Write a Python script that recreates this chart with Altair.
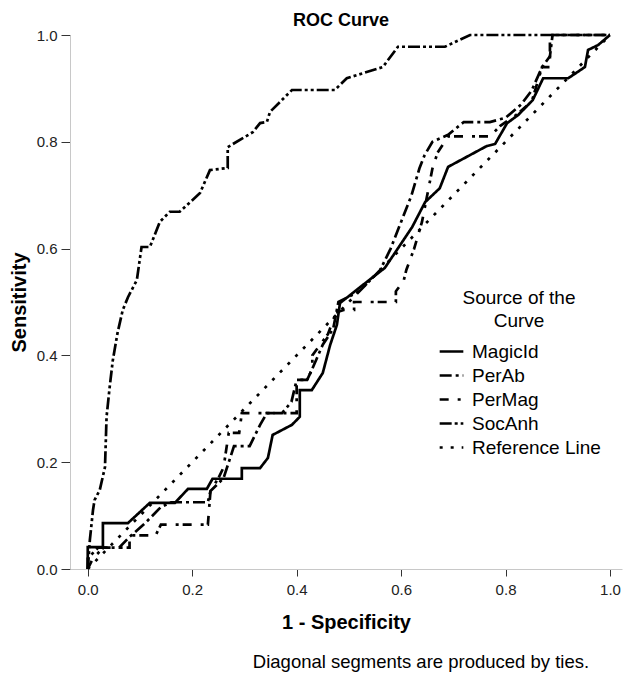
import altair as alt
import pandas as pd

series_names = ["MagicId", "PerAb", "PerMag", "SocAnh", "Reference Line"]
dash_patterns = [[1, 0], [12, 4, 3, 4], [9, 9, 3, 4], [12, 3, 3, 3, 3, 3], [3, 8]]

magic_x = [0, 0, 0.029, 0.029, 0.077, 0.119, 0.167, 0.192, 0.228, 0.239, 0.295, 0.295, 0.330, 0.345,
           0.354, 0.391, 0.406, 0.406, 0.429, 0.450, 0.464, 0.477, 0.483, 0.527, 0.569, 0.621, 0.646,
           0.674, 0.690, 0.764, 0.780, 0.803, 0.824, 0.852, 0.872, 0.920, 0.952, 0.958, 0.977, 1.0]
magic_y = [0, 0.041, 0.041, 0.086, 0.086, 0.124, 0.124, 0.150, 0.150, 0.169, 0.169, 0.189, 0.189, 0.208,
           0.251, 0.270, 0.285, 0.335, 0.335, 0.367, 0.419, 0.457, 0.498, 0.532, 0.564, 0.640, 0.687,
           0.713, 0.753, 0.792, 0.796, 0.835, 0.850, 0.878, 0.919, 0.919, 0.940, 0.972, 0.981, 1.0]

perab_x = [0, 0, 0.02, 0.06, 0.08, 0.11, 0.14, 0.16, 0.19, 0.23, 0.235, 0.26, 0.27, 0.28, 0.31, 0.33,
           0.343, 0.372, 0.39, 0.40, 0.42, 0.43, 0.45, 0.47, 0.48, 0.52, 0.56, 0.58, 0.60, 0.62, 0.635,
           0.645, 0.66, 0.69, 0.72, 0.77, 0.80, 0.83, 0.85, 0.87, 0.885, 0.89, 1.0]
perab_y = [0, 0.02, 0.04, 0.04, 0.06, 0.086, 0.116, 0.125, 0.125, 0.125, 0.146, 0.17, 0.2, 0.23, 0.23,
           0.27, 0.292, 0.292, 0.313, 0.354, 0.354, 0.375, 0.42, 0.45, 0.5, 0.52, 0.56, 0.6, 0.65, 0.7,
           0.75, 0.775, 0.8, 0.813, 0.837, 0.837, 0.845, 0.87, 0.896, 0.94, 0.96, 1.0, 1.0]

permag_x = [0, 0.01, 0.03, 0.08, 0.08, 0.13, 0.14, 0.23, 0.235, 0.25, 0.26, 0.27, 0.29, 0.295, 0.40,
            0.40, 0.42, 0.43, 0.43, 0.46, 0.475, 0.49, 0.51, 0.51, 0.59, 0.59, 0.605, 0.61, 0.625, 0.64,
            0.65, 0.66, 0.67, 0.69, 0.77, 0.79, 0.82, 0.85, 0.87, 0.885, 0.885, 1.0]
permag_y = [0, 0.02, 0.04, 0.04, 0.063, 0.063, 0.083, 0.083, 0.146, 0.17, 0.19, 0.255, 0.255, 0.292,
            0.292, 0.354, 0.354, 0.375, 0.40, 0.44, 0.48, 0.485, 0.485, 0.5, 0.5, 0.52, 0.54, 0.56, 0.6,
            0.65, 0.7, 0.75, 0.78, 0.81, 0.81, 0.83, 0.85, 0.875, 0.94, 0.94, 1.0, 1.0]

socanh_x = [0, 0.002, 0.004, 0.010, 0.013, 0.023, 0.033, 0.036, 0.042, 0.048, 0.057, 0.067, 0.077,
            0.094, 0.103, 0.119, 0.138, 0.157, 0.176, 0.215, 0.234, 0.268, 0.268, 0.316, 0.330, 0.343,
            0.349, 0.391, 0.473, 0.496, 0.565, 0.594, 0.684, 0.732, 1.0]
socanh_y = [0, 0.026, 0.054, 0.110, 0.129, 0.148, 0.191, 0.285, 0.341, 0.391, 0.442, 0.485, 0.509,
            0.541, 0.603, 0.603, 0.650, 0.669, 0.669, 0.704, 0.747, 0.751, 0.790, 0.818, 0.835, 0.837,
            0.856, 0.897, 0.897, 0.919, 0.940, 0.978, 0.978, 1.0, 1.0]

ref_x = [0, 1]
ref_y = [0, 1]

tick_values = [0.0, 0.2, 0.4, 0.6, 0.8, 1.0]
footnote = "Diagonal segments are produced by ties."

rows = []
for name, xs, ys in [("MagicId", magic_x, magic_y), ("PerAb", perab_x, perab_y),
                     ("PerMag", permag_x, permag_y), ("SocAnh", socanh_x, socanh_y),
                     ("Reference Line", ref_x, ref_y)]:
    for i, (xv, yv) in enumerate(zip(xs, ys)):
        rows.append({"series": name, "fpr": xv, "tpr": yv, "idx": i})
df = pd.DataFrame(rows)

FONT = "Liberation Sans"

lines = alt.Chart(df).mark_line(strokeWidth=2.7, color="black", strokeCap="butt", strokeJoin="miter").encode(
    x=alt.X("fpr:Q",
            scale=alt.Scale(domain=[-0.034, 1.023], nice=False, zero=False),
            axis=alt.Axis(values=tick_values, format=".1f", title="1 - Specificity",
                          tickSize=7, labelPadding=6, titlePadding=15)),
    y=alt.Y("tpr:Q",
            scale=alt.Scale(domain=[0, 1], nice=False, zero=False),
            axis=alt.Axis(values=tick_values, format=".1f", title="Sensitivity",
                          tickSize=9, labelPadding=4, titlePadding=7)),
    strokeDash=alt.StrokeDash("series:N",
                              scale=alt.Scale(domain=series_names, range=dash_patterns),
                              legend=alt.Legend(title=["Source of the", "Curve"])),
    detail="series:N",
    order="idx:Q",
)

note = alt.Chart(pd.DataFrame({"t": [footnote]})).mark_text(
    font=FONT, fontSize=18.5, color="black", align="center", baseline="middle"
).encode(x=alt.value(351), y=alt.value(627), text="t:N")

chart = alt.layer(lines, note).properties(
    width=552, height=534,
    title=alt.TitleParams("ROC Curve", font=FONT, fontSize=18, fontWeight="bold", color="black",
                          anchor="middle", offset=10, dy=12, dx=-5),
    autosize=alt.AutoSizeParams(type="none"),
    padding={"left": 62, "top": 27, "right": 10, "bottom": 110},
).configure_view(stroke=None).configure_axis(
    grid=False,
    domainColor="#c8c8c8",
    domainWidth=1,
    tickColor="#333333",
    tickWidth=1,
    labelFont=FONT,
    labelFontSize=15,
    labelColor="#222222",
    titleFont=FONT,
    titleFontSize=20,
    titleFontWeight="bold",
    titleColor="black",
).configure_legend(
    orient="none",
    legendX=368,
    legendY=254,
    titleFont=FONT,
    titleFontSize=19,
    titleFontWeight="normal",
    titleColor="black",
    titleAlign="center",
    titleAnchor="middle",
    titleLineHeight=23,
    titlePadding=7,
    labelFont=FONT,
    labelFontSize=19,
    labelColor="black",
    labelOffset=7,
    symbolType="stroke",
    symbolSize=560,
    symbolStrokeWidth=2.7,
    symbolStrokeColor="black",
    rowPadding=0,
)

chart.save("out.html", embed_options={"renderer": "svg", "actions": False})
